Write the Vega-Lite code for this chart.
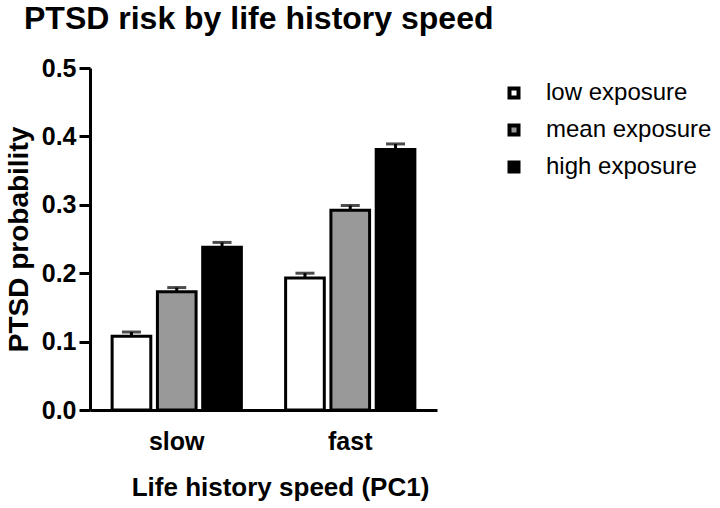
{
  "$schema": "https://vega.github.io/schema/vega-lite/v6.json",
  "autosize": "none",
  "width": 347,
  "height": 342,
  "padding": {"left": 90, "top": 68, "right": 283, "bottom": 98},
  "background": "white",
  "title": {
    "text": "PTSD risk by life history speed",
    "anchor": "start",
    "frame": "group",
    "dx": -66,
    "offset": 20,
    "font": "Liberation Sans",
    "fontSize": 32,
    "fontWeight": "bold",
    "color": "black"
  },
  "config": {
    "view": {"stroke": null},
    "font": "Liberation Sans",
    "axis": {
      "domainColor": "black",
      "domainWidth": 3,
      "tickColor": "black",
      "tickWidth": 3,
      "grid": false,
      "labelColor": "black",
      "titleColor": "black",
      "labelFont": "Liberation Sans",
      "titleFont": "Liberation Sans",
      "labelFontWeight": "bold",
      "titleFontWeight": "bold"
    }
  },
  "data": {
    "values": [
      {"group": "slow", "exposure": "low exposure", "value": 0.108, "upper": 0.114},
      {"group": "slow", "exposure": "mean exposure", "value": 0.173, "upper": 0.179},
      {"group": "slow", "exposure": "high exposure", "value": 0.238, "upper": 0.245},
      {"group": "fast", "exposure": "low exposure", "value": 0.193, "upper": 0.200},
      {"group": "fast", "exposure": "mean exposure", "value": 0.292, "upper": 0.299},
      {"group": "fast", "exposure": "high exposure", "value": 0.381, "upper": 0.389}
    ]
  },
  "encoding": {
    "x": {
      "field": "group",
      "type": "nominal",
      "sort": ["slow", "fast"],
      "scale": {"paddingInner": 0.255, "paddingOuter": 0.1275},
      "axis": {
        "title": "Life history speed (PC1)",
        "labelAngle": 0,
        "ticks": false,
        "labelFontSize": 25,
        "labelPadding": 19,
        "titleFontSize": 26,
        "titlePadding": 20,
        "titleX": 190,
        "titleAlign": "center"
      }
    },
    "xOffset": {
      "field": "exposure",
      "type": "nominal",
      "sort": ["low exposure", "mean exposure", "high exposure"],
      "scale": {"paddingInner": 0.146, "paddingOuter": 0}
    }
  },
  "layer": [
    {
      "mark": {"type": "bar", "stroke": "black", "strokeWidth": 3},
      "encoding": {
        "y": {
          "field": "value",
          "type": "quantitative",
          "scale": {"domain": [0, 0.5], "nice": false},
          "axis": {
            "title": "PTSD probability",
            "values": [0, 0.1, 0.2, 0.3, 0.4, 0.5],
            "format": ".1f",
            "tickSize": 11,
            "labelFontSize": 25,
            "labelPadding": 3,
            "titleFontSize": 28,
            "titlePadding": 8
          }
        },
        "fill": {
          "field": "exposure",
          "type": "nominal",
          "sort": ["low exposure", "mean exposure", "high exposure"],
          "scale": {"range": ["#ffffff", "#999999", "#000000"]},
          "legend": {
            "title": null,
            "orient": "none",
            "legendX": 412,
            "legendY": 13,
            "symbolType": "square",
            "symbolSize": 81,
            "symbolStrokeColor": "black",
            "symbolStrokeWidth": 4,
            "labelFontSize": 24,
            "labelLimit": 300,
            "labelColor": "black",
            "labelOffset": 20,
            "rowPadding": 11
          }
        }
      }
    },
    {
      "mark": {"type": "rule", "color": "black", "strokeWidth": 3},
      "encoding": {
        "y": {"field": "value", "type": "quantitative"},
        "y2": {"field": "upper"}
      }
    },
    {
      "mark": {"type": "tick", "color": "black", "thickness": 3, "size": 19},
      "encoding": {
        "y": {"field": "upper", "type": "quantitative"}
      }
    }
  ]
}
